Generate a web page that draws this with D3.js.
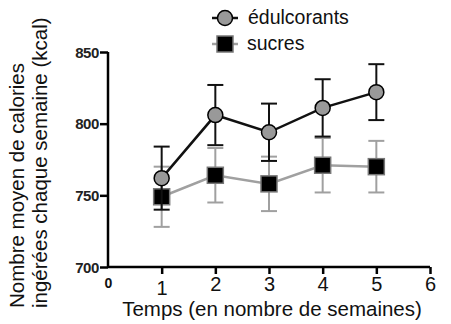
<!DOCTYPE html>
<html>
<head>
<meta charset="utf-8">
<script src="https://cdn.jsdelivr.net/npm/d3@7"></script>
<style>
    body { margin: 0; background: #fff; }
    svg { display: block; font-family: "Liberation Sans", Arial, sans-serif; }
</style>
</head>
<body>
<div id="vis"></div>
<script>

// Data ----------------------------------------------------------------------

const WEEKS = [1, 2, 3, 4, 5];
const EDUL_MEAN = [762, 806, 794, 811, 822];
const EDUL_ERR = [22, 21, 20, 20, 19.5];
const SUCRE_MEAN = [749, 764, 758, 771, 770];
const SUCRE_ERR = [21, 19, 19, 19, 18];
const X_TICKS = [0, 1, 2, 3, 4, 5, 6];
const Y_TICKS = [700, 750, 800, 850];

// Setup ---------------------------------------------------------------------

const width = 451;
const height = 324;

const svg = d3.select("#vis")
    .append("svg")
    .attr("width", width)
    .attr("height", height);

const xscale = d3.scaleLinear().domain([0, 6]).range([108, 430]);
const yscale = d3.scaleLinear().domain([700, 850]).range([267, 52]);

// Axes
const yaxis = d3.axisLeft(yscale)
    .tickValues(Y_TICKS)
    .tickFormat(d3.format("d"))
    .tickSize(8)
    .tickPadding(1);

const ygroup = svg.append("g")
    .attr("transform", `translate(${xscale(0)},0)`)
    .call(yaxis);

ygroup.select(".domain").attr("stroke", "#000").attr("stroke-width", 2.5)
    .attr("d", `M0,${yscale(850)}V${yscale(700)}`);
ygroup.selectAll(".tick line").attr("stroke-width", 2.5);
ygroup.selectAll(".tick text")
    .style("font-weight", "bold")
    .style("font-size", "15px")
    .style("letter-spacing", "-0.4px")
    .attr("dy", "0.35em")
    .attr("fill", "#222");

const xaxis = d3.axisBottom(xscale)
    .tickValues(X_TICKS)
    .tickFormat(d3.format("d"))
    .tickSize(7)
    .tickPadding(3);

const xgroup = svg.append("g")
    .attr("transform", `translate(0,${yscale(700)})`)
    .call(xaxis);

xgroup.select(".domain").attr("stroke", "#000").attr("stroke-width", 2.5)
    .attr("d", `M${xscale(0)},0H${xscale(6)}`);
xgroup.selectAll(".tick line").attr("stroke-width", 2.5);
xgroup.selectAll(".tick text")
    .style("font-size", "20px")
    .attr("fill", "#111");

// The "1" label sits a little lower in the original
xgroup.selectAll(".tick").filter(d => d === 1)
    .select("text")
    .attr("y", 14);

// The zero label is small like the y labels
const zeroTick = xgroup.selectAll(".tick").filter(d => d === 0);
zeroTick.select("text")
    .style("font-weight", "bold")
    .style("font-size", "14px")
    .attr("y", 11);
zeroTick.select("line").remove();

// Axis titles
svg.append("text")
    .attr("x", 272)
    .attr("y", 316)
    .attr("text-anchor", "middle")
    .style("font-size", "20.5px")
    .attr("fill", "#111")
    .text("Temps (en nombre de semaines)");

svg.append("text")
    .attr("transform", "translate(24,308) rotate(-90)")
    .attr("text-anchor", "start")
    .style("font-size", "20.5px")
    .attr("fill", "#111")
    .text("Nombre moyen de calories");

svg.append("text")
    .attr("transform", "translate(47,308) rotate(-90)")
    .attr("text-anchor", "start")
    .style("font-size", "20.5px")
    .attr("fill", "#111")
    .text("ingérées chaque semaine (kcal)");

// Series drawing -------------------------------------------------------------

function drawSeries(means, errs, color, lineWidth) {
    const data = WEEKS.map((w, i) => ({x: w, y: means[i], e: errs[i]}));
    const g = svg.append("g");

    const line = d3.line()
        .x(d => xscale(d.x))
        .y(d => yscale(d.y));

    g.append("path")
        .datum(data)
        .attr("fill", "none")
        .attr("stroke", color)
        .attr("stroke-width", lineWidth)
        .attr("d", line);

    const bars = g.selectAll(".err")
        .data(data)
        .enter()
        .append("g")
        .attr("stroke", color)
        .attr("stroke-width", 2);

    bars.append("line")
        .attr("x1", d => xscale(d.x))
        .attr("x2", d => xscale(d.x))
        .attr("y1", d => yscale(d.y + d.e))
        .attr("y2", d => yscale(d.y - d.e));

    [1, -1].forEach(s => {
        bars.append("line")
            .attr("x1", d => xscale(d.x) - 8)
            .attr("x2", d => xscale(d.x) + 8)
            .attr("y1", d => yscale(d.y + s * d.e))
            .attr("y2", d => yscale(d.y + s * d.e));
    });

    return {g, data};
}

// Sucres (grey line, black squares) drawn first
const sucres = drawSeries(SUCRE_MEAN, SUCRE_ERR, "#a0a0a0", 2.5);
sucres.g.selectAll(".sq")
    .data(sucres.data)
    .enter()
    .append("rect")
    .attr("x", d => xscale(d.x) - 8)
    .attr("y", d => yscale(d.y) - 8)
    .attr("width", 16)
    .attr("height", 16)
    .attr("fill", "#000")
    .attr("stroke", "#777")
    .attr("stroke-width", 1.5);

// Edulcorants (black line, grey circles)
const edul = drawSeries(EDUL_MEAN, EDUL_ERR, "#111", 2.5);
edul.g.selectAll(".dot")
    .data(edul.data)
    .enter()
    .append("circle")
    .attr("cx", d => xscale(d.x))
    .attr("cy", d => yscale(d.y))
    .attr("r", 7.5)
    .attr("fill", "#999")
    .attr("stroke", "#000")
    .attr("stroke-width", 1.5);

// Legend --------------------------------------------------------------------

const legend = svg.append("g");

legend.append("line")
    .attr("x1", 212).attr("x2", 238)
    .attr("y1", 18).attr("y2", 18)
    .attr("stroke", "#111").attr("stroke-width", 2.5);
legend.append("circle")
    .attr("cx", 225).attr("cy", 18).attr("r", 7.5)
    .attr("fill", "#999").attr("stroke", "#000").attr("stroke-width", 1.5);
legend.append("text")
    .attr("x", 248).attr("y", 24)
    .style("font-size", "19.5px")
    .attr("fill", "#111")
    .text("édulcorants");

legend.append("line")
    .attr("x1", 212).attr("x2", 238)
    .attr("y1", 44).attr("y2", 44)
    .attr("stroke", "#a0a0a0").attr("stroke-width", 2.5);
legend.append("rect")
    .attr("x", 217).attr("y", 36).attr("width", 16).attr("height", 16)
    .attr("fill", "#000").attr("stroke", "#777").attr("stroke-width", 1.5);
legend.append("text")
    .attr("x", 247).attr("y", 50)
    .style("font-size", "19.5px")
    .attr("fill", "#111")
    .text("sucres");

</script>
</body>
</html>
